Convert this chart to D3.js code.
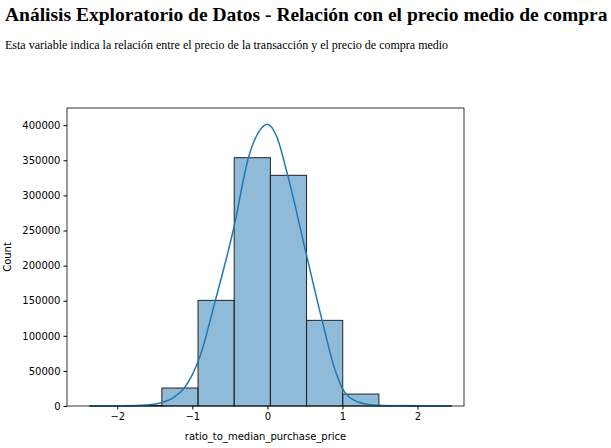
<!DOCTYPE html>
<html>
<head>
<meta charset="utf-8">
<script src="https://d3js.org/d3.v7.min.js"></script>
<style>
  body { margin: 0; background: #fff; font-family: "Liberation Serif", "DejaVu Serif", serif; }
  h1 { font-size: 19.5px; margin: 0; position: absolute; left: 5px; top: 4px; font-weight: bold; white-space: nowrap; }
  p { font-size: 12px; margin: 0; position: absolute; left: 5px; top: 38px; white-space: nowrap; }
  svg { position: absolute; left: 0; top: 0; }
  .axis text { font-family: "DejaVu Sans", sans-serif; font-size: 10px; fill: #000; }
</style>
</head>
<body>
<h1>Análisis Exploratorio de Datos - Relación con el precio medio de compra</h1>
<p>Esta variable indica la relación entre el precio de la transacción y el precio de compra medio</p>
<svg width="611" height="448"></svg>
<script>
// histogram bins (10 bins from -2.37 to 2.45)
var binStart = -2.37, binEnd = 2.45;
var binCounts = [100, 800, 25600, 150500, 353700, 328600, 122000, 17000, 800, 100];
// kde curve
var kdeX = [-2.37, -2.0, -1.6, -1.4, -1.25, -1.107, -0.9, -0.693, -0.444, -0.253, -0.1, 0, 0.12, 0.271, 0.516, 0.729, 0.9, 1.027, 1.2, 1.4, 1.7, 2.0, 2.45];
var kdeY = [0, 100, 1500, 5000, 12000, 25600, 70000, 150500, 255400, 353700, 393000, 401500, 385000, 328600, 217500, 122000, 52000, 20000, 6000, 1500, 300, 50, 0];
var xTicks = [-2, -1, 0, 1, 2];
var yTicks = [0, 50000, 100000, 150000, 200000, 250000, 300000, 350000, 400000];

var m = {left: 67, right: 464, top: 108, bottom: 406};
var svg = d3.select("svg");
var x = d3.scaleLinear().domain([-2.67, 2.62]).range([m.left, m.right]);
var y = d3.scaleLinear().domain([0, 424500]).range([m.bottom, m.top]);

var w = (binEnd - binStart) / binCounts.length;
var bins = binCounts.map(function(c, i) { return {x0: binStart + i * w, x1: binStart + (i + 1) * w, c: c}; });

svg.append("g").selectAll("rect").data(bins).enter().append("rect")
  .attr("x", function(d) { return x(d.x0); })
  .attr("width", function(d) { return x(d.x1) - x(d.x0); })
  .attr("y", function(d) { return y(d.c); })
  .attr("height", function(d) { return y(0) - y(d.c); })
  .attr("fill", "rgba(31,119,180,0.5)")
  .attr("stroke", "#222").attr("stroke-width", 1);

var line = d3.line().x(function(d) { return x(d[0]); }).y(function(d) { return y(d[1]); }).curve(d3.curveMonotoneX);
svg.append("path").datum(kdeX.map(function(v, i) { return [v, kdeY[i]]; }))
  .attr("d", line).attr("fill", "none").attr("stroke", "#1f77b4").attr("stroke-width", 1.5);

svg.append("rect").attr("x", m.left).attr("y", m.top)
  .attr("width", m.right - m.left).attr("height", m.bottom - m.top)
  .attr("fill", "none").attr("stroke", "#000").attr("stroke-width", 0.8);

svg.append("g").attr("class", "axis").attr("transform", "translate(0," + m.bottom + ")")
  .call(d3.axisBottom(x).tickValues(xTicks).tickSize(3.5).tickFormat(function(d) { return d < 0 ? "\u2212" + (-d) : d; }))
  .call(function(g) { g.select(".domain").remove(); });
svg.append("g").attr("class", "axis").attr("transform", "translate(" + m.left + ",0)")
  .call(d3.axisLeft(y).tickValues(yTicks).tickSize(3.5).tickFormat(d3.format("d")))
  .call(function(g) { g.select(".domain").remove(); });

svg.append("text").attr("x", (m.left + m.right) / 2).attr("y", 440).attr("text-anchor", "middle")
  .attr("font-family", "DejaVu Sans, sans-serif").attr("font-size", 10).text("ratio_to_median_purchase_price");
svg.append("text").attr("transform", "translate(11," + ((m.top + m.bottom) / 2) + ") rotate(-90)")
  .attr("text-anchor", "middle").attr("font-family", "DejaVu Sans, sans-serif").attr("font-size", 10).text("Count");
</script>
</body>
</html>
